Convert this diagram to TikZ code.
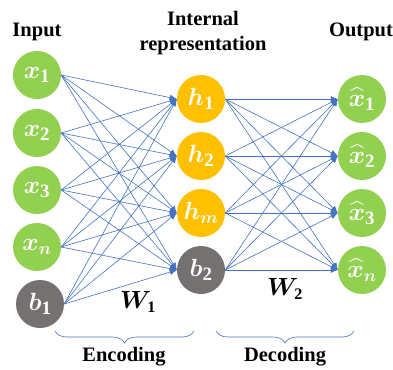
\documentclass[tikz,border=0pt]{standalone}
\usepackage{amsmath,bm}
\usepackage{fontspec}
\setmainfont{Liberation Serif}
\usetikzlibrary{arrows.meta,decorations.pathreplacing}
\definecolor{nodegreen}{HTML}{92D050}
\definecolor{hidorange}{HTML}{FFC000}
\definecolor{biasgray}{HTML}{767171}
\definecolor{edgeblue}{HTML}{4472C4}
\begin{document}
\begin{tikzpicture}[x=1pt,y=-1pt,
  neuron/.style={circle,minimum size=48pt,inner sep=0pt,text=white,font=\fontsize{27}{28}\selectfont},
  inp/.style={neuron,fill=nodegreen},
  hid/.style={neuron,fill=hidorange},
  bias/.style={neuron,fill=biasgray},
  edge/.style={edgeblue,line width=0.6pt,-{Latex[length=7pt,width=6pt]}},
  title/.style={font=\fontsize{20.5}{25}\selectfont\bfseries,align=center},
  brc/.style={edgeblue,line width=0.6pt,decorate,decoration={brace,mirror,amplitude=12pt}}]
\useasboundingbox (0,0) rectangle (393,369);
% layers
\node[inp] (x1) at (37,75) {$\bm{x}_{\mathbf{1}}$};
\node[inp] (x2) at (37,133) {$\bm{x}_{\mathbf{2}}$};
\node[inp] (x3) at (37,190) {$\bm{x}_{\mathbf{3}}$};
\node[inp] (xn) at (37,247) {$\bm{x}_{\bm{n}}$};
\node[bias] (b1) at (40,304) {$\bm{b}_{\mathbf{1}}$};
\node[hid] (h1) at (201,99) {$\bm{h}_{\mathbf{1}}$};
\node[hid] (h2) at (201,156) {$\bm{h}_{\mathbf{2}}$};
\node[hid] (hm) at (201,213) {$\bm{h}_{\bm{m}}$};
\node[bias] (b2) at (201,270) {$\bm{b}_{\mathbf{2}}$};
\node[inp] (y1) at (362,99) {$\widehat{\bm{x}}_{\mathbf{1}}$};
\node[inp] (y2) at (362,156) {$\widehat{\bm{x}}_{\mathbf{2}}$};
\node[inp] (y3) at (362,213) {$\widehat{\bm{x}}_{\mathbf{3}}$};
\node[inp] (yn) at (362,270) {$\widehat{\bm{x}}_{\bm{n}}$};
% weights
\foreach \s in {x1,x2,x3,xn,b1}
  \foreach \t in {h1,h2,hm,b2}
    \draw[edge] (\s.east) -- (\t.west);
\foreach \s in {h1,h2,hm,b2}
  \foreach \t in {y1,y2,y3,yn}
    \draw[edge] (\s.east) -- (\t.west);
% titles
\node[title] (tin) at (37,32) {Input};
\node[title] (thid) at (203,33) {Internal\\representation};
\node[title] (tout) at (361,32) {Output};
\node[font=\fontsize{23}{24}\selectfont] (w1) at (138,302) {$\bm{W}_{\mathbf{1}}$};
\node[font=\fontsize{23}{24}\selectfont] (w2) at (285,289) {$\bm{W}_{\mathbf{2}}$};
% braces
\coordinate (encL) at (55,331);
\coordinate (encR) at (194,331);
\coordinate (decL) at (216,331);
\coordinate (decR) at (354,331);
\draw[brc] (encL) -- (encR);
\draw[brc] (decL) -- (decR);
\node[title] (tenc) at (124,357) {Encoding};
\node[title] (tdec) at (285,357) {Decoding};
\end{tikzpicture}
\end{document}
